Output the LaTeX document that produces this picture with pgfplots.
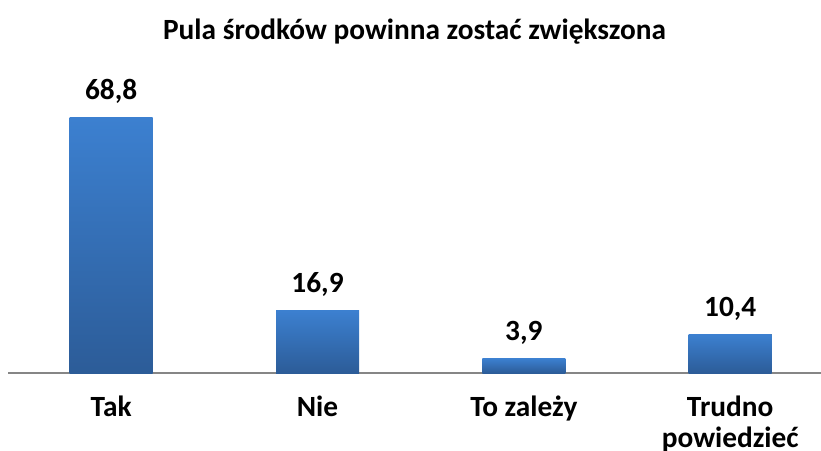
\documentclass[border=0pt]{standalone}
\usepackage{fontspec}
\setmainfont{Carlito}
\usepackage{pgfplots}
\pgfplotsset{compat=1.18}
\definecolor{bartop}{RGB}{60,128,208}
\definecolor{barbot}{RGB}{44,92,152}
\definecolor{axisgray}{RGB}{134,134,134}
\newcommand{\lblfont}{\fontsize{22}{23}\selectfont\bfseries}
\begin{document}
\begin{tikzpicture}
\begin{axis}[
  name=ax,
  scale only axis,
  width=609.75pt, height=191.25pt,
  xmin=-0.5, xmax=3.44,
  ymin=0, ymax=68.8,
  clip=false,
  axis x line=bottom, axis y line=none,
  x axis line style={-, draw=axisgray, line width=1.1pt},
  xtick={0,1,2,3},
  xticklabels={Tak, Nie, To zależy, {Trudno\\powiedzieć}},
  major tick length=0pt,
  xtick style={draw=none},
  xticklabel style={font=\lblfont, align=center, anchor=north, inner sep=0pt, yshift=-17pt},
  ytick=\empty,
  ybar, bar width=62.25pt,
  every axis plot/.append style={draw=none, bar shift=0pt, top color=bartop, bottom color=barbot},
  nodes near coords={\pgfmathprintnumber[fixed,fixed zerofill,precision=1,use comma,assume math mode=true]{\pgfplotspointmeta}},
  nodes near coords style={font=\lblfont, text=black, anchor=base, inner sep=0pt, yshift=13.5pt},
  title={Pula środków powinna zostać zwiększona},
  title style={font=\lblfont, at={(0.5,1)}, anchor=base, inner sep=0pt, yshift=52.5pt},
]
\addplot coordinates {(0,68.8)};
\addplot coordinates {(1,16.9)};
\addplot coordinates {(2,3.9)};
\addplot coordinates {(3,10.4)};
\end{axis}
\pgfresetboundingbox
\path[use as bounding box] ([shift={(-6pt,-57.75pt)}]ax.south west) rectangle ([shift={(609.75pt,279.75pt)}]ax.south west);
\end{tikzpicture}
\end{document}
